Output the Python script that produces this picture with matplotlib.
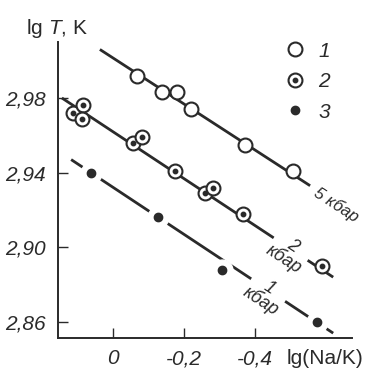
import matplotlib
matplotlib.use("Agg")
import matplotlib.pyplot as plt
from matplotlib.lines import Line2D
from matplotlib.legend_handler import HandlerTuple

FONT = ['Liberation Sans', 'DejaVu Sans']
plt.rcParams['font.family'] = FONT
plt.rcParams['mathtext.fontset'] = 'custom'
plt.rcParams['mathtext.rm'] = 'Liberation Sans'
plt.rcParams['mathtext.it'] = 'Liberation Sans:italic'

# ---- data ----
x1 = [-0.068, -0.138, -0.180, -0.220, -0.373, -0.507]
y1 = [2.992, 2.983, 2.983, 2.974, 2.955, 2.941]
x2 = [0.113, 0.085, 0.087, -0.056, -0.082, -0.175, -0.259, -0.282, -0.366, -0.589]
y2 = [2.972, 2.976, 2.969, 2.956, 2.959, 2.941, 2.929, 2.932, 2.918, 2.890]
x3 = [0.062, -0.127, -0.307, -0.575]
y3 = [2.940, 2.916, 2.888, 2.860]

line5_x = [0.037, -0.555]
line5_y = [3.006, 2.933]
line2_x = [0.144, -0.620]
line2_y = [2.980, 2.884]
line1_x = [0.118, -0.620]
line1_y = [2.947, 2.854]

xticks = [0.0, -0.2, -0.4]
xticklabels = ['0', '-0,2', '-0,4']
yticks = [2.86, 2.90, 2.94, 2.98]
yticklabels = ['2,86', '2,90', '2,94', '2,98']
legend_labels = ['1', '2', '3']
line_labels = ['5 кбар', '2\nкбар', '1\nкбар']

W, H = 367, 372
fig = plt.figure(figsize=(W / 100, H / 100), dpi=100)
ax = fig.add_axes([58 / W, 1 - 338 / H, (352 - 58) / W, (338 - 42) / H])
ax.set_xlim(0.155, -0.673)
ax.set_ylim(2.8514, 3.010)

for s in ['top', 'right']:
    ax.spines[s].set_visible(False)
for s in ['left', 'bottom']:
    ax.spines[s].set_linewidth(1.4)
    ax.spines[s].set_color('#2a2a2a')

lc = '#2a2a2a'
ax.set_xticks(xticks)
ax.set_xticklabels(xticklabels)
ax.set_yticks(yticks)
ax.set_yticklabels(yticklabels)
ax.tick_params(direction='in', length=7, width=1.0, color=lc,
               labelsize=15, labelcolor=lc)
ax.tick_params(axis='y', pad=9)
ax.tick_params(axis='x', pad=8)
for lab in ax.get_xticklabels() + ax.get_yticklabels():
    lab.set_fontstyle('italic')

lw = 2.0
ax.plot(line5_x, line5_y, color=lc, lw=lw, zorder=1, solid_capstyle='butt')
ax.plot(line2_x, line2_y, color=lc, lw=lw, zorder=1, solid_capstyle='butt')
ax.plot(line1_x, line1_y, color=lc, lw=lw, zorder=1, solid_capstyle='butt')

# series 1: open circles
ax.plot(x1, y1, ls='none', marker='o', ms=10, mfc='white', mec=lc, mew=1.5, zorder=3)
# series 2: circle with dot
ax.plot(x2, y2, ls='none', marker='o', ms=10, mfc='white', mec=lc, mew=1.5, zorder=3)
ax.plot(x2, y2, ls='none', marker='o', ms=3.2, mfc=lc, mec=lc, zorder=4)
# series 3: filled dots with white gap in the line
ax.plot(x3, y3, ls='none', marker='o', ms=15, mfc='white', mec='white', zorder=2)
ax.plot(x3, y3, ls='none', marker='o', ms=6, mfc=lc, mec=lc, zorder=4)

# line labels
rot = -33
tkw = dict(rotation=rot, rotation_mode='anchor', ha='center', va='center',
           fontsize=13, style='italic', color=lc, multialignment='center',
           linespacing=0.85)
ax.text(-0.628, 2.9228, line_labels[0], fontsize=12,
        **{k: v for k, v in tkw.items() if k != 'fontsize'})
ax.text(-0.494, 2.8972, line_labels[1],
        bbox=dict(boxstyle='square,pad=0.05', fc='white', ec='none'), zorder=2, **tkw)
ax.text(-0.428, 2.8745, line_labels[2],
        bbox=dict(boxstyle='square,pad=0.05', fc='white', ec='none'), zorder=2, **tkw)

# legend
h1 = Line2D([], [], ls='none', marker='o', ms=10, mfc='white', mec=lc, mew=1.5)
h2a = Line2D([], [], ls='none', marker='o', ms=10, mfc='white', mec=lc, mew=1.5)
h2b = Line2D([], [], ls='none', marker='o', ms=3.2, mfc=lc, mec=lc)
h3 = Line2D([], [], ls='none', marker='o', ms=6, mfc=lc, mec=lc)
leg = ax.legend([h1, (h2a, h2b), h3], legend_labels,
                handler_map={tuple: HandlerTuple(ndivide=1, pad=0)},
                loc='upper left', bbox_to_anchor=(266 / W, 1 - 23 / H),
                bbox_transform=fig.transFigure, frameon=False,
                handlelength=1.0, handletextpad=0.6, labelspacing=0.55,
                prop={'size': 15, 'style': 'italic'})
for t in leg.get_texts():
    t.set_color(lc)

# axis labels
fig.text(26 / W, 1 - 28 / H, r'lg $T$, K', fontsize=15, color=lc,
         ha='left', va='center')
fig.text(325 / W, 1 - 358 / H, 'lg(Na/K)', fontsize=15, color=lc,
         ha='center', va='center')

fig.savefig('out.png', dpi=100)
